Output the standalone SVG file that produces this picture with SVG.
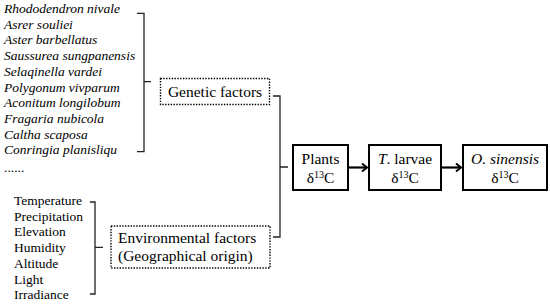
<svg xmlns="http://www.w3.org/2000/svg" width="550" height="305" viewBox="0 0 550 305">
<style>
.sp{font-family:"Liberation Serif","Times New Roman",serif;font-size:13.5px;font-style:italic;fill:#000}
.ev{font-family:"Liberation Serif","Times New Roman",serif;font-size:13.5px;fill:#000}
.bt{font-family:"Liberation Serif","Times New Roman",serif;font-size:15.5px;fill:#000}
.dot{fill:#fff;stroke:#000;stroke-width:1.4;stroke-dasharray:1.4 1.4}
.box{fill:#fff;stroke:#000;stroke-width:2}
.ln{fill:none;stroke:#222;stroke-width:1.3}
.ar{fill:none;stroke:#000;stroke-width:2.2;marker-end:url(#ah)}
</style>
<defs>
<marker id="ah" markerWidth="8" markerHeight="10" refX="6" refY="5" orient="auto" markerUnits="userSpaceOnUse">
<path d="M1,1 L6,5 L1,9" fill="none" stroke="#000" stroke-width="2"/>
</marker>
</defs>
<g id="species-list">
<text class="sp" x="4" y="13">Rhododendron nivale</text>
<text class="sp" x="4" y="28.7">Asrer souliei</text>
<text class="sp" x="4" y="44.4">Aster barbellatus</text>
<text class="sp" x="4" y="60.1">Saussurea sungpanensis</text>
<text class="sp" x="4" y="75.8">Selaqinella vardei</text>
<text class="sp" x="4" y="91.5">Polygonum vivparum</text>
<text class="sp" x="4" y="107.2">Aconitum longilobum</text>
<text class="sp" x="4" y="122.9">Fragaria nubicola</text>
<text class="sp" x="4" y="138.6">Caltha scaposa</text>
<text class="sp" x="4" y="154.3">Conringia planisliqu</text>
<text class="ev" x="4" y="172">......</text>
</g>
<g id="env-list">
<text class="ev" x="14" y="205">Temperature</text>
<text class="ev" x="14" y="220.7">Precipitation</text>
<text class="ev" x="14" y="236.4">Elevation</text>
<text class="ev" x="14" y="252.1">Humidity</text>
<text class="ev" x="14" y="267.8">Altitude</text>
<text class="ev" x="14" y="283.5">Light</text>
<text class="ev" x="14" y="299.2">Irradiance</text>
</g>
<g id="genetic">
<rect class="dot" x="160.5" y="78.5" width="109" height="26"/>
<text class="bt" x="215" y="97" text-anchor="middle">Genetic factors</text>
</g>
<g id="environmental">
<rect class="dot" x="111" y="226" width="159" height="42"/>
<text class="bt" x="118" y="243">Environmental factors</text>
<text class="bt" x="118" y="261">(Geographical origin)</text>
</g>
<g id="plants">
<rect class="box" x="293" y="145" width="55" height="45"/>
<text class="bt" x="320.5" y="163.5" text-anchor="middle">Plants</text>
<text class="bt" x="320.5" y="183" text-anchor="middle">δ<tspan font-size="10" dy="-5">13</tspan><tspan dy="5">C</tspan></text>
</g>
<g id="larvae">
<rect class="box" x="369" y="145" width="72" height="45"/>
<text class="bt" x="405" y="163.5" text-anchor="middle"><tspan font-style="italic">T</tspan>. larvae</text>
<text class="bt" x="405" y="183" text-anchor="middle">δ<tspan font-size="10" dy="-5">13</tspan><tspan dy="5">C</tspan></text>
</g>
<g id="sinensis">
<rect class="box" x="463" y="145" width="84" height="45"/>
<text class="bt" x="505" y="163.5" text-anchor="middle" font-style="italic">O. sinensis</text>
<text class="bt" x="505" y="183" text-anchor="middle">δ<tspan font-size="10" dy="-5">13</tspan><tspan dy="5">C</tspan></text>
</g>
<g id="connectors">
<path class="ln" d="M137,13.3 H144 V151.7 H137 M144,81.7 H151"/>
<path class="ln" d="M90,202 H95 V294 H90 M95,247.3 H103"/>
<path class="ln" d="M273,96 H280 V237 H273 M280,167 H288"/>
<line class="ar" x1="348" y1="167.5" x2="367" y2="167.5"/>
<line class="ar" x1="441" y1="167.5" x2="461" y2="167.5"/>
</g>
</svg>
